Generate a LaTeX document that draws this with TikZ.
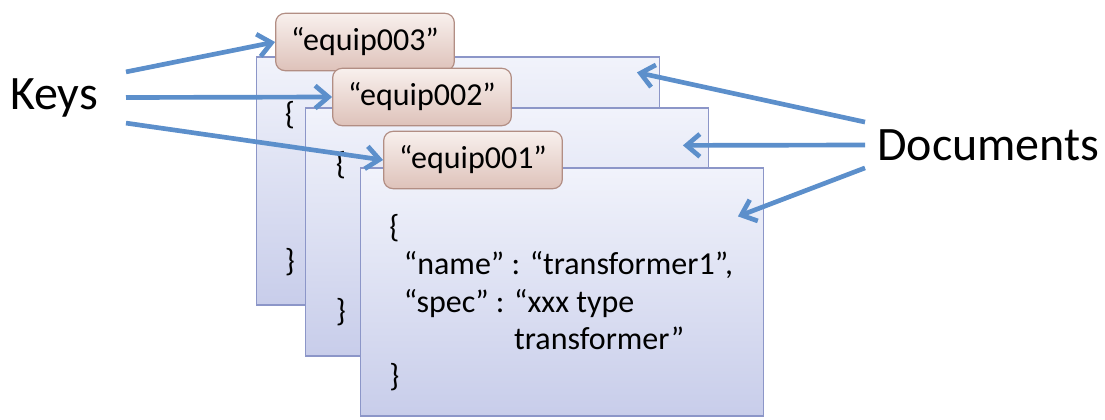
\documentclass[tikz,border=0pt]{standalone}
\usepackage{fontspec}
\setmainfont{Carlito}
\usepackage{tikz}
\usetikzlibrary{arrows.meta, positioning, calc}
\definecolor{docline}{RGB}{140,150,200}
\definecolor{doctop}{RGB}{241,243,251}
\definecolor{docbottom}{RGB}{200,205,234}
\definecolor{keyline}{RGB}{178,142,132}
\definecolor{keytop}{RGB}{248,240,237}
\definecolor{keybottom}{RGB}{222,194,186}
\definecolor{pointer}{RGB}{92,143,203}

\begin{document}
\begin{tikzpicture}[x=0.75pt,y=-0.75pt,>={Straight Barb[length=10pt,width=17pt]},
    docbox/.style={draw=docline,top color=doctop,bottom color=docbottom,line width=0.9pt,
      minimum width=302pt,minimum height=186pt},
    keybox/.style={draw=keyline,top color=keytop,bottom color=keybottom,line width=0.9pt,
      rounded corners=7pt,minimum width=134pt,minimum height=43pt,font=\fontsize{24}{28}\selectfont},
    brace/.style={font=\fontsize{24}{28}\selectfont,inner sep=0pt},
    bigtext/.style={font=\fontsize{36}{42}\selectfont},
    link/.style={draw=pointer,line width=3.5pt,->}]
  \useasboundingbox (0,0) rectangle (1105,420);

  % back document
  \node[docbox] (doc3) at (458,181) {};
  \node[brace] (open3) at (290,115) {\{};
  \node[brace] (close3) at (290,262) {\}};
  \node[keybox] (key3) at (365,42) {“equip003”};

  % middle document
  \node[docbox] (doc2) at (507,232) {};
  \node[brace] (open2) at (341,165) {\{};
  \node[brace] (close2) at (341,312) {\}};
  \node[keybox] (key2) at (422,97) {“equip002”};

  % front document
  \node[docbox] (doc1) at (562,292) {};
  \node[anchor=north west,align=left,inner sep=0pt,font=\fontsize{24}{28}\selectfont] (body1) at (389,214)
    {\{\\
     \hspace{11pt}“name” : “transformer1”,\\
     \hspace{11pt}“spec” : “xxx type\\
     \hspace{11pt}\phantom{“spec” : }transformer”\\
     \}};
  \node[keybox] (key1) at (473,160) {“equip001”};

  % labels
  \node[bigtext,anchor=east,minimum height=38pt,inner xsep=21pt] (keys) at (126,97.5) {Keys};
  \node[bigtext,anchor=west,minimum height=34pt,inner xsep=9pt] (docs) at (865,145) {Documents};

  \draw[link] (keys.north east) -- (key3.west);
  \draw[link] (keys.east) -- (key2.west);
  \draw[link] (keys.south east) -- (key1.west);
  \draw[link] (docs.north west) -- ($(doc3.north east)+(-23,16)$);
  \draw[link] (docs.west) -- ($(doc2.north east)+(-26,38)$);
  \draw[link] (docs.south west) -- ($(doc1.north east)+(-26,49)$);
\end{tikzpicture}
\end{document}
